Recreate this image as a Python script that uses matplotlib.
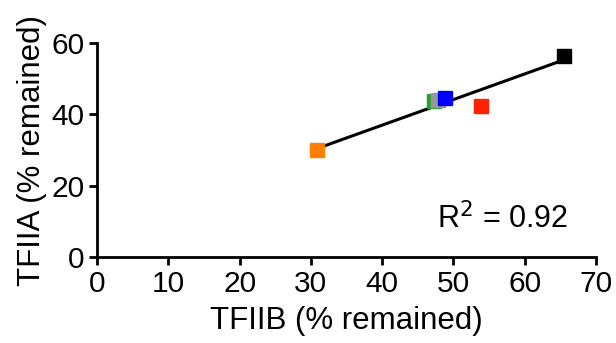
import numpy as np
import matplotlib
matplotlib.use("Agg")
from matplotlib import pyplot as plt

plt.rcParams['font.family'] = ['Liberation Sans', 'DejaVu Sans']

# TFIIB vs TFIIA (% remained)
tfiib = [30.9, 47.3, 47.9, 48.8, 53.8, 65.5]
tfiia = [29.9, 43.6, 44.0, 44.7, 42.2, 56.3]
colors = ['#ff7f00', '#2ca02c', '#999999', '#0000ff', '#ff2200', '#000000']

xticks = [0, 10, 20, 30, 40, 50, 60, 70]
yticks = [0, 20, 40, 60]

fig = plt.figure(figsize=(6.16, 3.43), dpi=100)
ax = fig.add_axes([97/616, 1 - 257/343, 499/616, 214/343])

for x, y, c in zip(tfiib, tfiia, colors):
    ax.plot(x, y, marker='s', color=c, markersize=10, linestyle='none', clip_on=False)

# linear fit through all points
slope, icpt = np.polyfit(tfiib, tfiia, 1)
xs = np.array([min(tfiib), max(tfiib)])
ax.plot(xs, slope * xs + icpt, color='black', lw=2.2, zorder=1)

ax.text(0.945, 0.10, 'R$^2$ = 0.92', transform=ax.transAxes, ha='right',
        va='bottom', fontsize=22)

ax.set_xlim(0, 70)
ax.set_ylim(0, 60)
ax.set_xticks(xticks)
ax.set_yticks(yticks)
ax.spines['top'].set_visible(False)
ax.spines['right'].set_visible(False)
ax.spines['left'].set_linewidth(2)
ax.spines['bottom'].set_linewidth(2)
ax.tick_params(width=2, length=6, labelsize=21.5, pad=3)
ax.set_xlabel('TFIIB (% remained)', fontsize=22.5, labelpad=6)
ax.set_ylabel('TFIIA (% remained)', fontsize=22.5, labelpad=3)

fig.savefig('out.png', dpi=100)
